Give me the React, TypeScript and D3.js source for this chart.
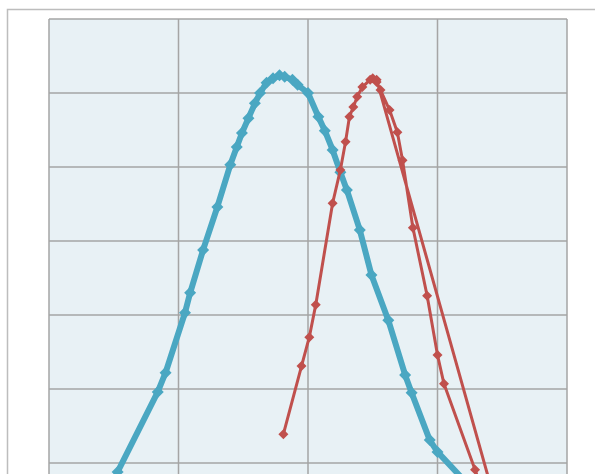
import { useRef, useEffect } from "react";
import * as d3 from "d3";

// blue series (bell shaped), x in grid columns, y in grid rows
const blueX = [0.43, 0.53, 0.84, 0.9, 1.05, 1.09, 1.19, 1.3, 1.4, 1.45, 1.49, 1.54, 1.59, 1.63, 1.68, 1.73, 1.78, 1.82, 1.88, 1.92, 2.0, 2.08, 2.13, 2.19, 2.25, 2.3, 2.4, 2.49, 2.62, 2.75, 2.8, 2.94, 3.0, 3.31];
const blueY = [-0.5, -0.12, 0.96, 1.22, 2.03, 2.3, 2.88, 3.46, 4.03, 4.27, 4.46, 4.66, 4.86, 5.0, 5.14, 5.2, 5.24, 5.22, 5.18, 5.11, 5.0, 4.68, 4.49, 4.23, 3.93, 3.69, 3.15, 2.54, 1.93, 1.19, 0.95, 0.31, 0.15, -0.43];

// red series (up, peak, down, then back up)
const redX = [1.81, 1.95, 2.01, 2.06, 2.19, 2.25, 2.29, 2.32, 2.35, 2.38, 2.42, 2.48, 2.5, 2.53, 2.56, 2.63, 2.69, 2.73, 2.81, 2.92, 3.0, 3.05, 3.29, 3.37, 3.48, 2.53];
const redY = [0.39, 1.31, 1.7, 2.14, 3.51, 3.96, 4.34, 4.68, 4.81, 4.95, 5.08, 5.18, 5.2, 5.15, 5.04, 4.77, 4.47, 4.09, 3.18, 2.26, 1.46, 1.07, -0.09, -0.5, -0.74, 5.18];

const xTicks = [0, 1, 2, 3, 4];
const yTicks = [-1, 0, 1, 2, 3, 4, 5, 6];

const BLUE = "#4aa7c2";
const RED = "#c0504d";

function diamond(r: number) {
  return `M0,${-r}L${r},0L0,${r}L${-r},0Z`;
}

function ScatterChart() {
  const svgRef = useRef<SVGSVGElement>(null);

  useEffect(() => {
    const svg = d3.select(svgRef.current);
    svg.selectAll("*").remove();

    const left = 49, right = 567, top = 19, bottom = 537;
    const x = d3.scaleLinear().domain([0, 4]).range([left, right]);
    const y = d3.scaleLinear().domain([-1, 6]).range([bottom, top]);

    // outer frame
    svg.append("rect")
      .attr("x", 7.5).attr("y", 9.5)
      .attr("width", 700).attr("height", 600)
      .attr("fill", "#fff")
      .attr("stroke", "#bdbdbd")
      .attr("stroke-width", 1.5);

    // plot background
    svg.append("rect")
      .attr("x", left).attr("y", top)
      .attr("width", right - left).attr("height", bottom - top)
      .attr("fill", "#e8f1f5");

    // grid
    const grid = svg.append("g");
    xTicks.forEach(t => {
      grid.append("line")
        .attr("x1", x(t)).attr("x2", x(t))
        .attr("y1", top).attr("y2", bottom)
        .attr("stroke", "#a5a5a5")
        .attr("stroke-width", 1.5);
    });
    yTicks.forEach(t => {
      grid.append("line")
        .attr("x1", left).attr("x2", right)
        .attr("y1", y(t)).attr("y2", y(t))
        .attr("stroke", "#a5a5a5")
        .attr("stroke-width", 1.5);
    });

    const line = d3.line<[number, number]>()
      .x(d => x(d[0]))
      .y(d => y(d[1]));

    const blue: [number, number][] = blueX.map((v, i) => [v, blueY[i]]);
    const red: [number, number][] = redX.map((v, i) => [v, redY[i]]);

    // blue series
    svg.append("path")
      .datum(blue)
      .attr("d", line)
      .attr("fill", "none")
      .attr("stroke", BLUE)
      .attr("stroke-width", 6)
      .attr("stroke-linejoin", "round");
    svg.append("g").selectAll("path")
      .data(blue)
      .join("path")
      .attr("d", diamond(6))
      .attr("transform", d => `translate(${x(d[0])},${y(d[1])})`)
      .attr("fill", BLUE);

    // red series
    svg.append("path")
      .datum(red)
      .attr("d", line)
      .attr("fill", "none")
      .attr("stroke", RED)
      .attr("stroke-width", 3)
      .attr("stroke-linejoin", "round");
    svg.append("g").selectAll("path")
      .data(red)
      .join("path")
      .attr("d", diamond(5))
      .attr("transform", d => `translate(${x(d[0])},${y(d[1])})`)
      .attr("fill", RED);
  }, []);

  return (
    <svg
      ref={svgRef}
      width={595}
      height={474}
      style={{ position: "absolute", left: 0, top: 0, display: "block" }}
    />
  );
}

export default function App() {
  return <ScatterChart />;
}
